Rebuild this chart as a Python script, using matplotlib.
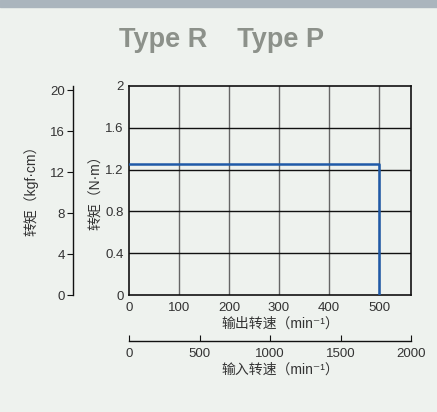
import matplotlib
matplotlib.use("Agg")
import matplotlib.pyplot as plt
from matplotlib import font_manager as fm

# Data
out_speed = [0, 500, 500]
torque_nm = [1.25, 1.25, 0]
x_ticks = [0, 100, 200, 300, 400, 500]
y_ticks = [0, 0.4, 0.8, 1.2, 1.6, 2]
y_ticklabels = ["0", "0.4", "0.8", "1.2", "1.6", "2"]
kgf_ticks = [0, 4, 8, 12, 16, 20]
in_ticks = [0, 500, 1000, 1500, 2000]
title = "Type R    Type P"
xlabel_out = "输出转速（min⁻¹）"
xlabel_in = "输入转速（min⁻¹）"
ylabel_nm = "转矩（N·m）"
ylabel_kgf = "转矩（kgf·cm）"

names = {f.name for f in fm.fontManager.ttflist}
narrow = "Liberation Sans Narrow" if "Liberation Sans Narrow" in names else "Liberation Sans"
FAM = [narrow, "Noto Sans CJK SC", "DejaVu Sans"]
plt.rcParams['font.family'] = FAM

BG = "#eef2ee"
TXT = "#333333"
W, H = 437, 412
fig = plt.figure(figsize=(W/100, H/100), dpi=100, facecolor=BG)

def px(x, y):
    return x / W, 1 - y / H

# top bar
fig.patches.append(plt.Rectangle((0, 1 - 7/H), 1, 7/H, transform=fig.transFigure,
                                 color="#aab5bd", zorder=0))
fig.text(*px(221, 40), title, ha="center", va="center", fontsize=19.5,
         fontweight="bold", color="#8c918a", family=["Liberation Sans", "DejaVu Sans"])

L, R = 129/W, 411/W
B, T = (H-295)/H, (H-86)/H
ax = fig.add_axes([L, B, R-L, T-B])
ax.set_facecolor(BG)
ax.set_xlim(0, 564)
ax.set_ylim(0, 2)
ax.set_xticks(x_ticks)
ax.set_yticks(y_ticks)
ax.set_yticklabels(y_ticklabels)
for x in x_ticks[1:]:
    ax.axvline(x, color="#666666", lw=1.0, zorder=1)
for y in y_ticks[1:-1]:
    ax.axhline(y, color="#111111", lw=1.0, zorder=1)
ax.plot(out_speed, torque_nm, color="#1f5aa8", lw=1.8, zorder=3)
for s in ax.spines.values():
    s.set_color("#111111"); s.set_linewidth(1.2)
ax.tick_params(length=0, labelsize=9.5, colors=TXT)
ax.tick_params(axis="x", pad=5)
ax.tick_params(axis="y", pad=4)

# kgf axis
ak = fig.add_axes([73/W, B, 0.0001, T-B])
ak.set_facecolor("none")
for k in ["top", "right", "bottom"]:
    ak.spines[k].set_visible(False)
ak.spines["left"].set_color("#111111"); ak.spines["left"].set_linewidth(1.0)
ak.set_ylim(0, 2*10.197)
ak.set_yticks(kgf_ticks)
ak.set_xticks([])
ak.tick_params(axis="y", length=4, labelsize=9.5, colors=TXT, pad=2, color="#111111")

# input speed axis
ai = fig.add_axes([L, (H-341)/H, R-L, 0.0001])
ai.set_facecolor("none")
for k in ["top", "right", "left"]:
    ai.spines[k].set_visible(False)
ai.spines["bottom"].set_color("#111111"); ai.spines["bottom"].set_linewidth(1.0)
ai.set_xlim(0, 2000)
ai.set_xticks(in_ticks)
ai.set_yticks([])
ai.tick_params(axis="x", direction="in", length=4, labelsize=9.5, colors=TXT, color="#111111", pad=5)

# axis titles
fig.text(*px(280, 324), xlabel_out, ha="center", va="center", fontsize=10, color=TXT)
fig.text(*px(280, 370), xlabel_in, ha="center", va="center", fontsize=10, color=TXT)
fig.text(*px(96, 189), ylabel_nm, ha="center", va="center", fontsize=10, color=TXT, rotation=90)
fig.text(*px(31, 187), ylabel_kgf, ha="center", va="center", fontsize=10, color=TXT, rotation=90)

fig.savefig("out.png", dpi=100, facecolor=BG)
